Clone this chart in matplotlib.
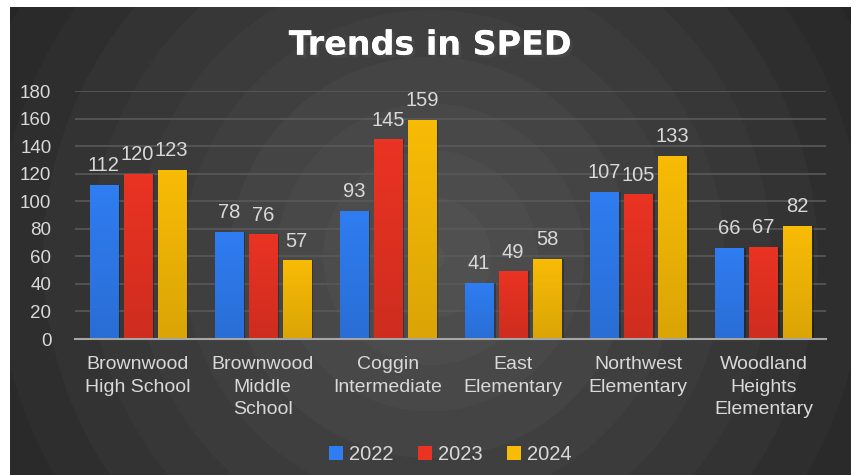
import matplotlib
matplotlib.use('Agg')
import matplotlib.pyplot as plt
import matplotlib.patheffects as pe
import numpy as np

# data
schools = ['Brownwood\nHigh School', 'Brownwood\nMiddle\nSchool', 'Coggin\nIntermediate',
           'East\nElementary', 'Northwest\nElementary', 'Woodland\nHeights\nElementary']
years = ['2022', '2023', '2024']
sped_2022 = [112, 78, 93, 41, 107, 66]
sped_2023 = [120, 76, 145, 49, 105, 67]
sped_2024 = [123, 57, 159, 58, 133, 82]

colors = ['#2f7df2', '#ea3323', '#f8bb06']
text_col = '#d9d9d9'

plt.rcParams['font.family'] = ['Liberation Sans', 'DejaVu Sans']

W, H = 857, 475
fig = plt.figure(figsize=(W / 100, H / 100), dpi=100, facecolor='white')

# radial dark background
bg = fig.add_axes([10 / W, 0, 841 / W, 468 / H])
bg.set_axis_off()
yy, xx = np.mgrid[0:468, 0:841]
cx, cy = 420, 250
r = np.sqrt((xx - cx) ** 2 + (yy - cy) ** 2) / 560.0
shade = 0.33 - 0.20 * np.clip(r, 0, 1)
shade = np.round(shade * 60) / 60
img = np.dstack([shade, shade, shade])
bg.imshow(img, aspect='auto', extent=[0, 1, 0, 1], interpolation='bilinear')
bg.set_xlim(0, 1)
bg.set_ylim(0, 1)

ax = fig.add_axes([75 / W, (H - 339) / H, 751 / W, 248 / H])
ax.patch.set_alpha(0)

x = np.arange(len(schools))
width = 0.224
step = 0.272
series = [sped_2022, sped_2023, sped_2024]

grad = np.linspace(0, 1, 50).reshape(-1, 1)
for i, vals in enumerate(series):
    pos = x + (i - 1) * step
    # shadow
    ax.bar(pos + 0.02, vals, width, color='black', alpha=0.25, zorder=2)
    bars = ax.bar(pos, vals, width, color=colors[i], label=years[i], zorder=3)
    base = np.array(matplotlib.colors.to_rgb(colors[i]))
    dark = base * 0.88
    cimg = (grad * dark + (1 - grad) * base).reshape(50, 1, 3)
    for b, v, p in zip(bars, vals, pos):
        im = ax.imshow(cimg, extent=[p - width / 2, p + width / 2, 0, v], aspect='auto',
                       zorder=3.5, origin='upper')
        im.set_clip_path(b)
        ax.annotate(str(v), (p, v), xytext=(0, 7), textcoords='offset points',
                    ha='center', va='bottom', color=text_col, fontsize=14.5)

ax.set_xlim(-0.5, len(schools) - 0.5)
ax.set_ylim(0, 180)
ax.set_yticks(np.arange(0, 181, 20))
ax.yaxis.grid(True, color='#595959', linewidth=1.2, zorder=0)
ax.set_axisbelow(True)
for s in ['top', 'right', 'left']:
    ax.spines[s].set_visible(False)
ax.spines['bottom'].set_color('#a6a6a6')
ax.spines['bottom'].set_linewidth(1.5)
ax.spines['bottom'].set_zorder(5)
ax.tick_params(axis='both', length=0, colors=text_col, labelsize=13.5)
ax.tick_params(axis='y', pad=17)
ax.tick_params(axis='x', pad=12)
ax.set_xticks(x)
ax.set_xticklabels(schools, fontsize=14, linespacing=1.45)

fig.text(0.502, 0.905, 'Trends in SPED', ha='center', va='center', color='white',
         fontsize=24, fontweight='bold', family=['DejaVu Sans'],
         path_effects=[pe.withSimplePatchShadow(offset=(2, -2), alpha=0.6), pe.Normal()])

leg = ax.legend(loc='upper center', bbox_to_anchor=(0.5, -0.355), ncol=3, frameon=False,
                fontsize=14.5, handlelength=0.7, handleheight=0.7, handletextpad=0.3,
                columnspacing=1.2, labelcolor=text_col)

fig.savefig('out.png', dpi=100, facecolor='white')
